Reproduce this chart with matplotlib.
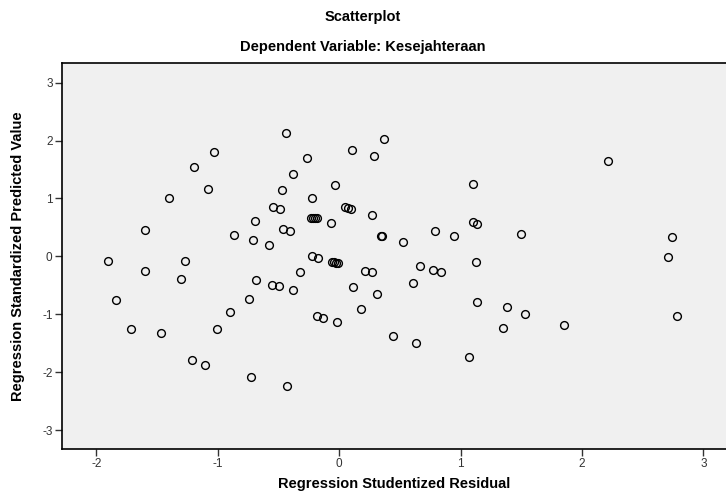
import matplotlib.pyplot as plt

plt.rcParams['font.family'] = ['Liberation Sans', 'DejaVu Sans']
plt.rcParams['axes.unicode_minus'] = False

# residual (x) and predicted value (y)
resid = [-1.035, -1.194, -1.079, -1.400, -0.475, -0.544, -0.489, -0.697, -1.600, -0.865,
         -0.714, -0.582, -0.464, -0.404, -1.902, -1.598, -1.268, -1.306, -0.689, -0.555,
         -0.497, -1.836, -0.747, -0.900, -1.713, -1.468, -1.005, -1.213, -1.109, -0.730,
         -0.442, 0.370, 0.106, -0.264, 0.287, -0.379, -0.034, 1.100, -0.223, 0.049,
         0.073, 0.093, 0.271, -0.236, -0.220, -0.201, -0.182, -0.067, 1.100, 1.133,
         0.787, 0.949, 0.342, 0.351, 0.523, -0.223, -0.174, -0.063, -0.044, -0.026,
         -0.006, 1.124, -0.319, 0.211, 0.271, 0.663, 0.770, 0.836, -0.382, 0.112,
         0.312, 0.606, 1.133, 0.178, -0.182, -0.135, -0.017, 0.447, 0.630, 1.072,
         -0.434, 2.213, 1.495, 2.739, 2.706, 1.385, 1.528, 1.349, 1.851, 2.779]
pred = [1.806, 1.552, 1.159, 1.003, 1.142, 0.860, 0.825, 0.606, 0.457, 0.363,
        0.284, 0.197, 0.479, 0.445, -0.074, -0.247, -0.074, -0.394, -0.408, -0.490,
        -0.519, -0.749, -0.732, -0.962, -1.263, -1.320, -1.256, -1.799, -1.869, -2.081,
        2.135, 2.019, 1.834, 1.696, 1.730, 1.431, 1.235, 1.258, 1.003, 0.855,
        0.837, 0.825, 0.721, 0.664, 0.664, 0.657, 0.657, 0.583, 0.588, 0.554,
        0.445, 0.346, 0.358, 0.346, 0.242, 0.000, -0.022, -0.092, -0.104, -0.114,
        -0.121, -0.104, -0.277, -0.247, -0.277, -0.166, -0.235, -0.265, -0.588, -0.524,
        -0.645, -0.460, -0.784, -0.905, -1.038, -1.061, -1.130, -1.384, -1.493, -1.747,
        -2.242, 1.651, 0.381, 0.336, -0.005, -0.882, -0.991, -1.246, -1.194, -1.026]

xticks = [-2, -1, 0, 1, 2, 3]
yticks = [-3, -2, -1, 0, 1, 2, 3]

fig = plt.figure(figsize=(7.26, 4.95), dpi=100)
ax = fig.add_axes([62.3 / 726, 1 - 448.7 / 495, 1 - 62.3 / 726, (448.7 - 63.3) / 495])
ax.set_facecolor('#f0f0f0')

ax.plot(resid, pred, linestyle='none', marker='o', markersize=5.6,
        markerfacecolor='none', markeredgecolor='black', markeredgewidth=1.0)

ax.set_xlim(-2.281, 3.186)
ax.set_ylim(-3.323, 3.335)
ax.set_xticks(xticks)
ax.set_yticks(yticks)
ax.tick_params(direction='out', length=5, width=1, labelsize=8.5, colors='#333333', pad=2)
for s in ax.spines.values():
    s.set_color('black')
    s.set_linewidth(1.2)
ax.spines['right'].set_visible(False)

ax.set_xlabel('Regression Studentized Residual', fontsize=10.5, fontweight='bold', labelpad=5)
ax.set_ylabel('Regression Standardized Predicted Value', fontsize=10.5, fontweight='bold', labelpad=12)

fig.text(0.5, 1 - 17 / 495, 'Scatterplot', ha='center', va='center', fontsize=10.5, fontweight='bold')
fig.text(0.5, 1 - 47 / 495, 'Dependent Variable: Kesejahteraan', ha='center', va='center',
         fontsize=10.5, fontweight='bold')

plt.savefig('out.png', dpi=100)
